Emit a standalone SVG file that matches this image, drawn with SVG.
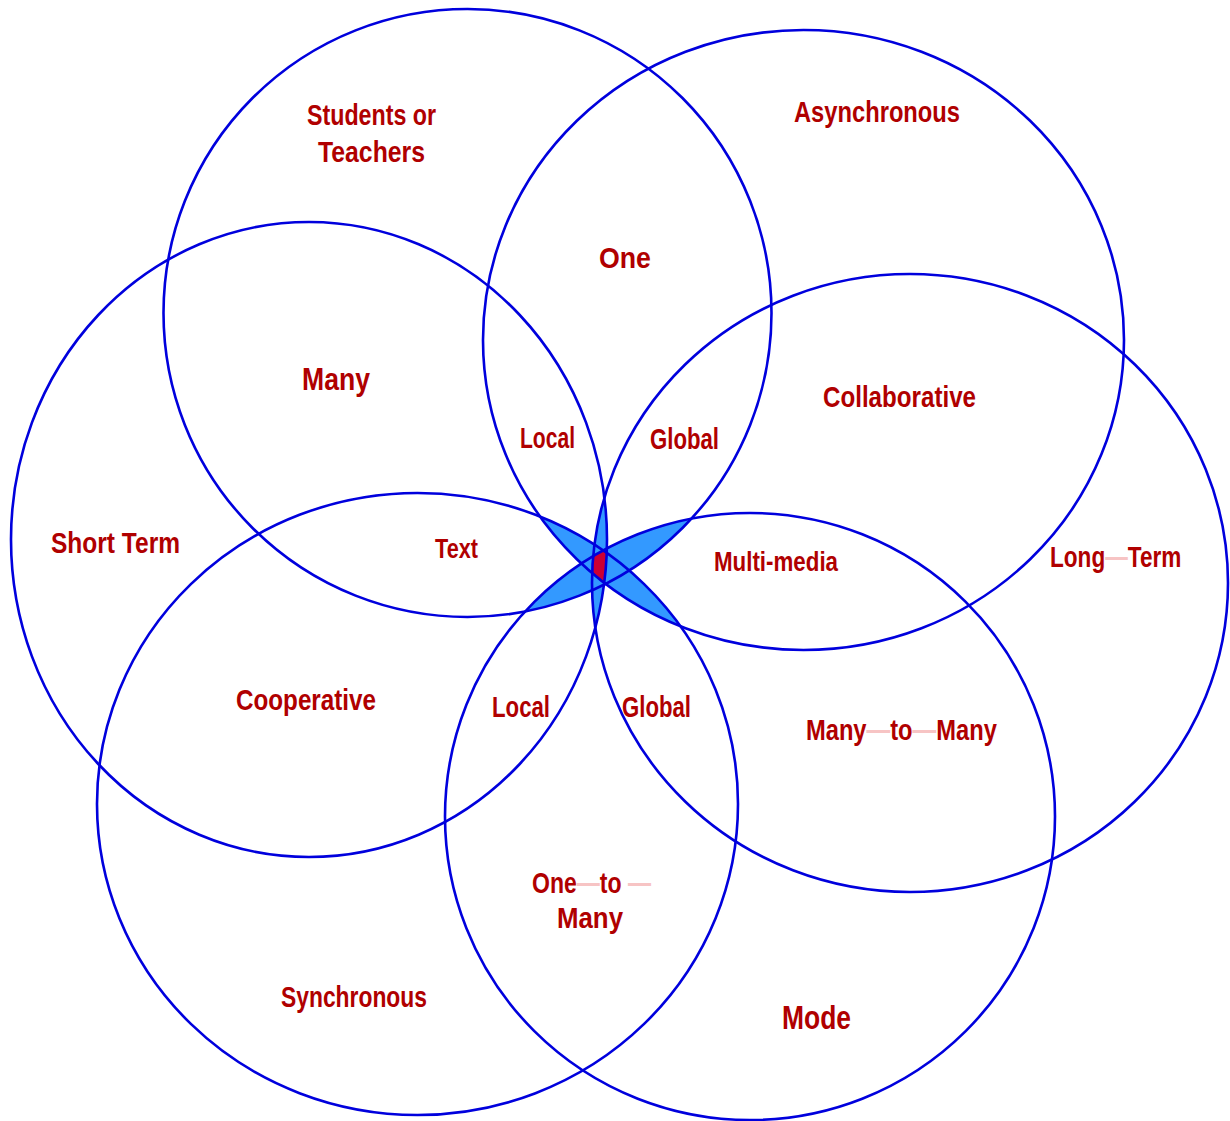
<svg xmlns="http://www.w3.org/2000/svg" xmlns:xlink="http://www.w3.org/1999/xlink" width="1230" height="1121" viewBox="0 0 1230 1121">
<style>
.ring{fill:none;stroke:#0000dd;stroke-width:2.6}
.blue{fill:#3399ff}
.red{fill:#cc0033}
.lbl{font-family:"Liberation Sans",Arial,sans-serif;font-weight:bold;font-size:30px;fill:#b00000}
.dash{fill:#f7c4c4}
</style>
<defs>
<ellipse id="eA" cx="467.5" cy="313" rx="304" ry="304"/>
<ellipse id="eB" cx="803.5" cy="340" rx="320.5" ry="310"/>
<ellipse id="eC" cx="309" cy="539.5" rx="298" ry="317.5"/>
<ellipse id="eD" cx="910" cy="583" rx="318" ry="309"/>
<ellipse id="eE" cx="417.5" cy="804" rx="320.5" ry="311"/>
<ellipse id="eF" cx="750" cy="816.5" rx="305" ry="303.5"/>
<clipPath id="kA"><use xlink:href="#eA"/></clipPath>
<clipPath id="kB"><use xlink:href="#eB"/></clipPath>
<clipPath id="kC"><use xlink:href="#eC"/></clipPath>
<clipPath id="kD"><use xlink:href="#eD"/></clipPath>
<clipPath id="kE"><use xlink:href="#eE"/></clipPath>
<clipPath id="kF"><use xlink:href="#eF"/></clipPath>
</defs>
<rect width="1230" height="1121" fill="#ffffff"/>
<g id="overlap-star">
<g clip-path="url(#kC)"><g clip-path="url(#kD)"><g clip-path="url(#kE)"><use xlink:href="#eF" class="blue"/></g></g></g>
<g clip-path="url(#kB)"><g clip-path="url(#kD)"><g clip-path="url(#kE)"><use xlink:href="#eF" class="blue"/></g></g></g>
<g clip-path="url(#kB)"><g clip-path="url(#kC)"><g clip-path="url(#kE)"><use xlink:href="#eF" class="blue"/></g></g></g>
<g clip-path="url(#kB)"><g clip-path="url(#kC)"><g clip-path="url(#kD)"><use xlink:href="#eF" class="blue"/></g></g></g>
<g clip-path="url(#kB)"><g clip-path="url(#kC)"><g clip-path="url(#kD)"><use xlink:href="#eE" class="blue"/></g></g></g>
<g clip-path="url(#kA)"><g clip-path="url(#kD)"><g clip-path="url(#kE)"><use xlink:href="#eF" class="blue"/></g></g></g>
<g clip-path="url(#kA)"><g clip-path="url(#kC)"><g clip-path="url(#kE)"><use xlink:href="#eF" class="blue"/></g></g></g>
<g clip-path="url(#kA)"><g clip-path="url(#kC)"><g clip-path="url(#kD)"><use xlink:href="#eF" class="blue"/></g></g></g>
<g clip-path="url(#kA)"><g clip-path="url(#kC)"><g clip-path="url(#kD)"><use xlink:href="#eE" class="blue"/></g></g></g>
<g clip-path="url(#kA)"><g clip-path="url(#kB)"><g clip-path="url(#kE)"><use xlink:href="#eF" class="blue"/></g></g></g>
<g clip-path="url(#kA)"><g clip-path="url(#kB)"><g clip-path="url(#kD)"><use xlink:href="#eF" class="blue"/></g></g></g>
<g clip-path="url(#kA)"><g clip-path="url(#kB)"><g clip-path="url(#kD)"><use xlink:href="#eE" class="blue"/></g></g></g>
<g clip-path="url(#kA)"><g clip-path="url(#kB)"><g clip-path="url(#kC)"><use xlink:href="#eF" class="blue"/></g></g></g>
<g clip-path="url(#kA)"><g clip-path="url(#kB)"><g clip-path="url(#kC)"><use xlink:href="#eE" class="blue"/></g></g></g>
<g clip-path="url(#kA)"><g clip-path="url(#kB)"><g clip-path="url(#kC)"><use xlink:href="#eD" class="blue"/></g></g></g>
<g clip-path="url(#kA)"><g clip-path="url(#kB)"><g clip-path="url(#kC)"><g clip-path="url(#kD)"><g clip-path="url(#kE)"><use xlink:href="#eF" class="red"/></g></g></g></g></g>
</g>
<g id="circle-students-teachers"><use xlink:href="#eA" class="ring"/></g>
<g id="circle-asynchronous"><use xlink:href="#eB" class="ring"/></g>
<g id="circle-short-term"><use xlink:href="#eC" class="ring"/></g>
<g id="circle-long-term"><use xlink:href="#eD" class="ring"/></g>
<g id="circle-synchronous"><use xlink:href="#eE" class="ring"/></g>
<g id="circle-mode"><use xlink:href="#eF" class="ring"/></g>
<g id="labels">
<text class="lbl" x="307" y="125" textLength="129" lengthAdjust="spacingAndGlyphs">Students or</text>
<text class="lbl" x="318" y="162" textLength="107" lengthAdjust="spacingAndGlyphs">Teachers</text>
<text class="lbl" x="794" y="122" textLength="166" lengthAdjust="spacingAndGlyphs">Asynchronous</text>
<text class="lbl" x="599" y="268" textLength="52" lengthAdjust="spacingAndGlyphs">One</text>
<text class="lbl" x="302" y="390" textLength="68" lengthAdjust="spacingAndGlyphs" style="font-size:32px">Many</text>
<text class="lbl" x="823" y="407" textLength="153" lengthAdjust="spacingAndGlyphs">Collaborative</text>
<text class="lbl" x="520" y="448" textLength="55" lengthAdjust="spacingAndGlyphs">Local</text>
<text class="lbl" x="650" y="449" textLength="69" lengthAdjust="spacingAndGlyphs">Global</text>
<text class="lbl" x="51" y="553" textLength="129" lengthAdjust="spacingAndGlyphs">Short Term</text>
<text class="lbl" x="435" y="558" textLength="43" lengthAdjust="spacingAndGlyphs" style="font-size:28px">Text</text>
<text class="lbl" x="714" y="571" textLength="124" lengthAdjust="spacingAndGlyphs" style="font-size:28px">Multi-media</text>
<text class="lbl" transform="translate(1050,567) scale(0.753,1)">Long<tspan class="dash">—</tspan>Term</text>
<text class="lbl" x="236" y="710" textLength="140" lengthAdjust="spacingAndGlyphs">Cooperative</text>
<text class="lbl" x="492" y="717" textLength="58" lengthAdjust="spacingAndGlyphs">Local</text>
<text class="lbl" x="622" y="717" textLength="69" lengthAdjust="spacingAndGlyphs">Global</text>
<text class="lbl" transform="translate(806,740) scale(0.79,1)">Many<tspan class="dash">—</tspan>to<tspan class="dash">—</tspan>Many</text>
<text class="lbl" transform="translate(532,893) scale(0.768,1)">One<tspan class="dash">—</tspan>to <tspan class="dash">—</tspan></text>
<text class="lbl" x="557" y="928" textLength="66" lengthAdjust="spacingAndGlyphs">Many</text>
<text class="lbl" x="281" y="1007" textLength="146" lengthAdjust="spacingAndGlyphs">Synchronous</text>
<text class="lbl" x="782" y="1029" textLength="69" lengthAdjust="spacingAndGlyphs" style="font-size:33px">Mode</text>
</g>
</svg>
